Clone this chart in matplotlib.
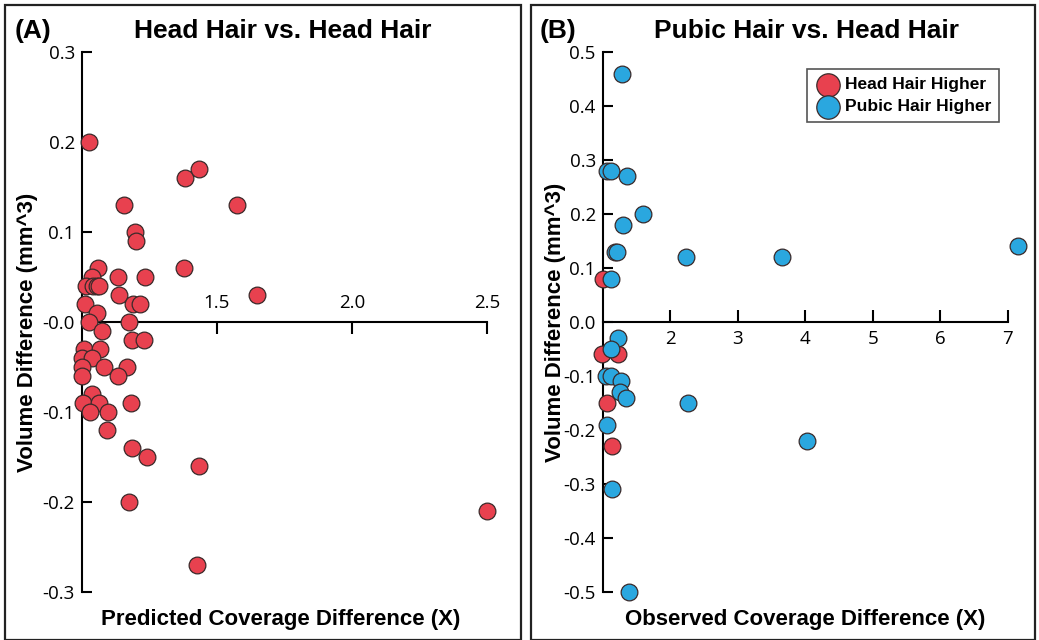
import matplotlib
matplotlib.use('Agg')
import matplotlib.pyplot as plt
from matplotlib.patches import Rectangle

matplotlib.rcParams['font.family']='sans-serif'
matplotlib.rcParams['font.sans-serif']=['Liberation Sans','DejaVu Sans']

# panel A: predicted coverage difference vs volume difference (head vs head)
a_x=[1.028,1.157,1.198,1.200,1.383,1.432,1.573,1.379,1.649,
	1.059,1.037,1.016,1.043,1.055,1.065,1.135,1.235,1.139,1.188,1.215,
	1.012,1.055,1.028,1.176,1.076,1.185,1.231,1.008,1.068,1.000,1.037,
	1.000,1.082,1.166,1.000,1.135,1.039,1.006,1.065,1.182,1.031,1.096,
	1.092,1.187,1.242,1.432,1.174,1.426,2.498]
a_y=[0.20,0.13,0.10,0.09,0.16,0.17,0.13,0.06,0.03,
	0.06,0.05,0.04,0.04,0.04,0.04,0.05,0.05,0.03,0.02,0.02,
	0.02,0.01,0.00,0.00,-0.01,-0.02,-0.02,-0.03,-0.03,-0.04,-0.04,
	-0.05,-0.05,-0.05,-0.06,-0.06,-0.08,-0.09,-0.09,-0.09,-0.10,-0.10,
	-0.12,-0.14,-0.15,-0.16,-0.20,-0.27,-0.21]

# panel B: observed coverage difference (pubic vs head)
b_red_x=[1.01,0.99,1.22,1.07,1.14]
b_red_y=[0.08,-0.06,-0.06,-0.15,-0.23]
b_blue_x=[1.29,1.06,1.13,1.36,1.60,1.30,1.18,1.21,2.24,3.65,7.15,1.12,
	1.22,1.13,1.05,1.13,1.27,1.26,1.34,2.27,1.07,4.02,1.14,1.39]
b_blue_y=[0.46,0.28,0.28,0.27,0.20,0.18,0.13,0.13,0.12,0.12,0.14,0.08,
	-0.03,-0.05,-0.10,-0.10,-0.11,-0.13,-0.14,-0.15,-0.19,-0.22,-0.31,-0.50]

a_yticks=[0.3,0.2,0.1,0.0,-0.1,-0.2,-0.3]
a_ylabels=['0.3','0.2','0.1','-0.0','-0.1','-0.2','-0.3']
a_xticks=[1.5,2.0,2.5]
b_yticks=[0.5,0.4,0.3,0.2,0.1,0.0,-0.1,-0.2,-0.3,-0.4,-0.5]
b_xticks=[2,3,4,5,6,7]

red='#E8414F'
blue='#2AA7DF'
edge='#3a2a2a'
ms=145

fig=plt.figure(figsize=(10.39,6.4),dpi=100)
W,H=1039.,640.

# panel frames
fig.patches.append(Rectangle((5/W,0),(521-5)/W,(635)/H,transform=fig.transFigure,fill=False,lw=1.6,ec='#222'))
fig.patches.append(Rectangle((531/W,0),(1035-531)/W,(635)/H,transform=fig.transFigure,fill=False,lw=1.6,ec='#222'))

def style(ax):
	for s in ax.spines.values():
		s.set_linewidth(1.5)
	ax.tick_params(axis='y',direction='in',length=7,width=1.5,pad=5)
	ax.tick_params(axis='both',labelsize=13.5,labelfontfamily='Open Sans')

# ---- panel A
ax=fig.add_axes([81.7/W,(H-591.7)/H,(487.3-81.7)/W,540/H])
ax.scatter(a_x,a_y,s=ms,c=red,edgecolors=edge,linewidths=0.9,clip_on=False,zorder=3)
ax.set_xlim(1.0,2.5)
ax.set_ylim(-0.3,0.3)
ax.spines['right'].set_visible(False)
ax.spines['bottom'].set_visible(False)
ax.spines['top'].set_position(('data',0))
ax.xaxis.set_ticks_position('top')
ax.set_xticks(a_xticks)
ax.set_xticklabels(['{:.1f}'.format(v) for v in a_xticks])
ax.set_yticks(a_yticks)
ax.set_yticklabels(a_ylabels)
ax.tick_params(axis='x',direction='in',length=8.5,width=1.5,pad=7)
style(ax)
ax.set_facecolor('none')

# ---- panel B
bx=fig.add_axes([602.7/W,(H-592)/H,(1007.7-602.7)/W,540/H])
bx.scatter(b_red_x,b_red_y,s=ms,c=red,edgecolors=edge,linewidths=0.9,clip_on=False,zorder=3,label='Head Hair Higher')
bx.scatter(b_blue_x,b_blue_y,s=ms,c=blue,edgecolors=edge,linewidths=0.9,clip_on=False,zorder=3,label='Pubic Hair Higher')
bx.set_xlim(1,7)
bx.set_ylim(-0.5,0.5)
bx.spines['right'].set_visible(False)
bx.spines['top'].set_visible(False)
bx.spines['bottom'].set_position(('data',0))
bx.set_xticks(b_xticks)
bx.set_yticks(b_yticks)
bx.set_yticklabels(['{:.1f}'.format(v) for v in b_yticks])
bx.tick_params(axis='x',direction='in',length=9,width=1.5,pad=6)
style(bx)
bx.set_facecolor('none')
leg=bx.legend(loc='upper right',bbox_to_anchor=(0.9785,0.968),markerscale=1.4,
	fancybox=False,framealpha=1,edgecolor='#555',borderpad=0.45,labelspacing=0.4,
	handletextpad=0.15,handlelength=1.6,borderaxespad=0,prop={'weight':'bold','size':12.5})
leg.get_frame().set_linewidth(1.2)

# titles and labels
fig.text(15/W,1-31/H,'(A)',fontsize=19,fontweight='bold',va='center',ha='left')
fig.text(283/W,1-31/H,'Head Hair vs. Head Hair',fontsize=19,fontweight='bold',va='center',ha='center')
fig.text(540/W,1-31/H,'(B)',fontsize=19,fontweight='bold',va='center',ha='left')
fig.text(806/W,1-31/H,'Pubic Hair vs. Head Hair',fontsize=19,fontweight='bold',va='center',ha='center')
fig.text(281/W,1-620/H,'Predicted Coverage Difference (X)',fontsize=16,fontweight='bold',va='center',ha='center')
fig.text(805/W,1-620/H,'Observed Coverage Difference (X)',fontsize=16,fontweight='bold',va='center',ha='center')
fig.text(28/W,1-332/H,'Volume Difference (mm^3)',fontsize=16,fontweight='bold',va='center',ha='center',rotation=90)
fig.text(555/W,1-322/H,'Volume Difference (mm^3)',fontsize=16,fontweight='bold',va='center',ha='center',rotation=90)

fig.savefig('out.png',dpi=100)
